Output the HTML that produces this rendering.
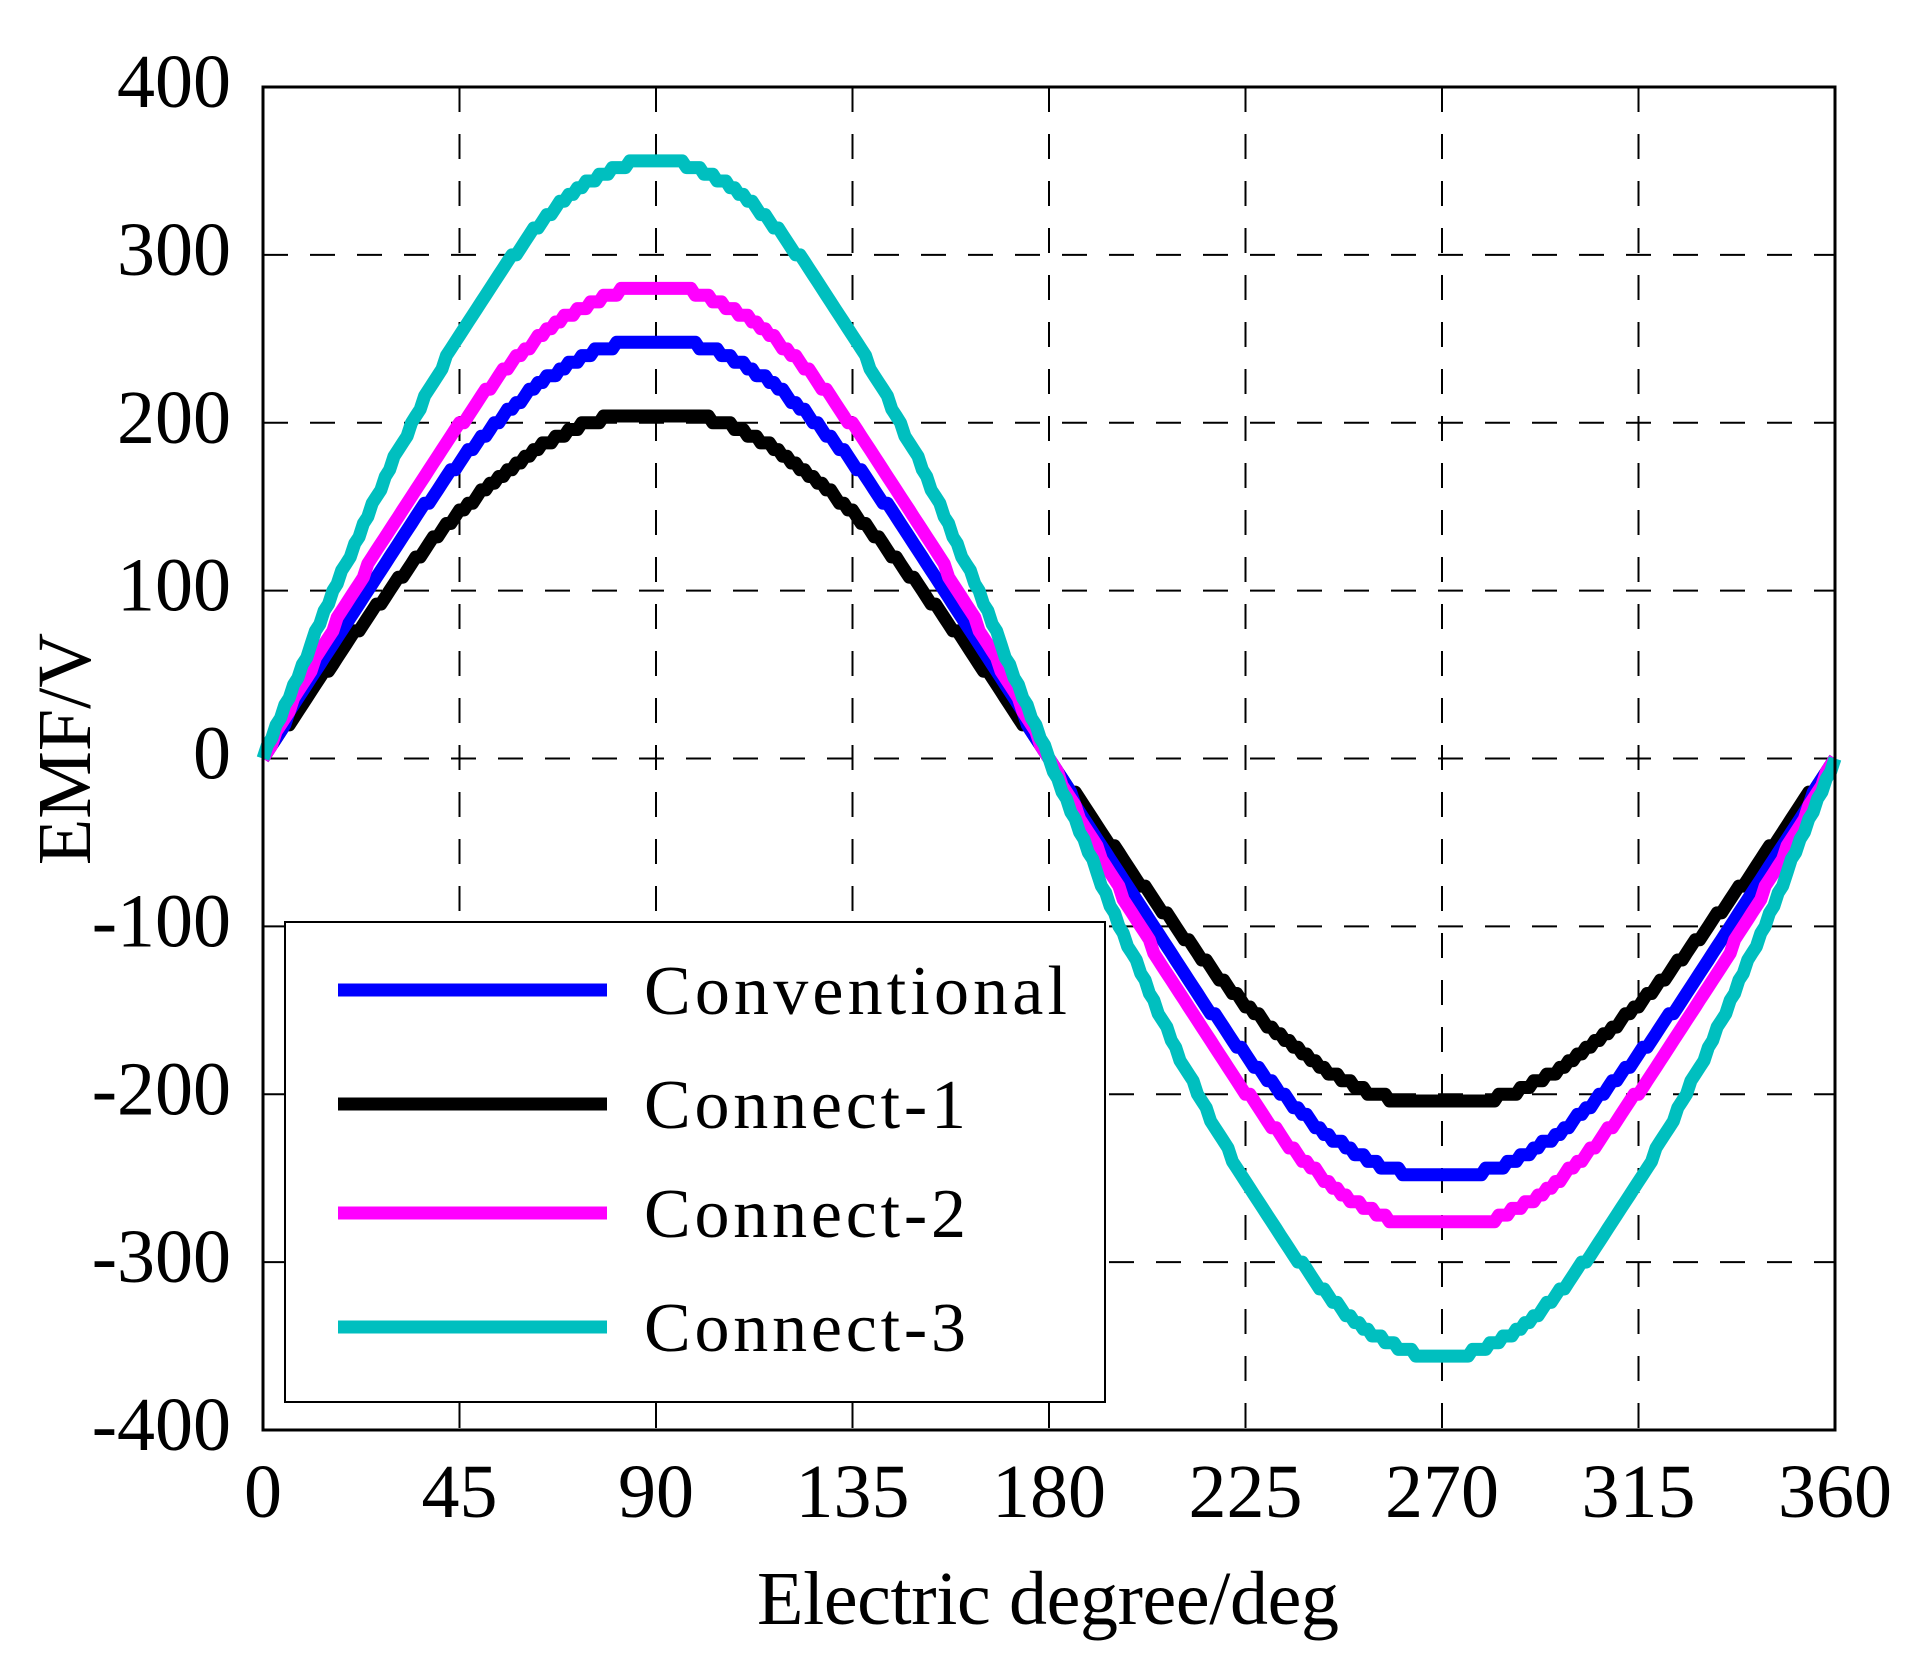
<!DOCTYPE html>
<html><head><meta charset="utf-8"><style>body{margin:0;background:#fff}svg{display:block}</style></head>
<body>
<svg id="s" width="1931" height="1675" xmlns="http://www.w3.org/2000/svg" font-family="Liberation Serif, serif">
<g id="grid" stroke="#000" stroke-width="2" stroke-dasharray="25,22"></g>
<g id="curves" fill="none" stroke-width="13" stroke-linejoin="round"></g>
<rect x="263" y="87" width="1572" height="1343" fill="none" stroke="#000" stroke-width="3"/>
<g id="ticks" font-size="76" fill="#000"></g>
<text x="90" y="749" font-size="76" text-anchor="middle" transform="rotate(-90 90 749)">EMF/V</text>
<text x="1048" y="1624" font-size="76" text-anchor="middle" textLength="582">Electric degree/deg</text>
<rect x="285" y="922" width="820" height="480" fill="#fff" stroke="#000" stroke-width="2"/>
<g stroke-width="13">
<line x1="338" y1="990" x2="607" y2="990" stroke="#0000ff"/>
<line x1="338" y1="1104" x2="607" y2="1104" stroke="#000"/>
<line x1="338" y1="1213" x2="607" y2="1213" stroke="#ff00ff"/>
<line x1="338" y1="1327" x2="607" y2="1327" stroke="#00bfbf"/>
</g>
<g font-size="70" fill="#000">
<text x="644" y="1014" textLength="423">Conventional</text>
<text x="644" y="1128" textLength="322">Connect-1</text>
<text x="644" y="1237" textLength="322">Connect-2</text>
<text x="644" y="1351" textLength="322">Connect-3</text>
</g>
</svg>
<script>
var L=263,R=1835,T=87,B=1430;
function X(d){return L+(R-L)*d/360}
function Y(v){return T+(400-v)*(B-T)/800}
var g=document.getElementById('grid'),t=document.getElementById('ticks'),ns="http://www.w3.org/2000/svg";
function el(p,n,a,txt){var e=document.createElementNS(ns,n);for(var k in a)e.setAttribute(k,a[k]);if(txt!=null)e.textContent=txt;p.appendChild(e);return e}
for(var d=45;d<360;d+=45)el(g,'line',{x1:X(d),y1:T,x2:X(d),y2:B});
for(var v=-300;v<400;v+=100)el(g,'line',{x1:L,y1:Y(v),x2:R,y2:Y(v)});
for(var d=0;d<=360;d+=45)el(t,'text',{x:X(d),y:B+87,'text-anchor':'middle'},d);
for(var v=-400;v<=400;v+=100)el(t,'text',{x:231,y:Y(v)+20,'text-anchor':'end'},v);
var c=document.getElementById('curves');
[[205,'#000',1.01],[247,'#0000ff',1.01],[278,'#ff00ff',1.01],[355,'#00bfbf',1.003]].forEach(function(s){
 var A=s[0],p='';
 for(var d=0;d<=360;d+=1){var v=A*s[2]*Math.sin(d*Math.PI/180);if(v>A)v=A;if(v<-A)v=-A;
  v=Math.round(v/4)*4;p+=(d?'L':'M')+X(d).toFixed(1)+','+Y(v).toFixed(1);}
 el(c,'path',{d:p,stroke:s[1]});
});
</script>
</body></html>
